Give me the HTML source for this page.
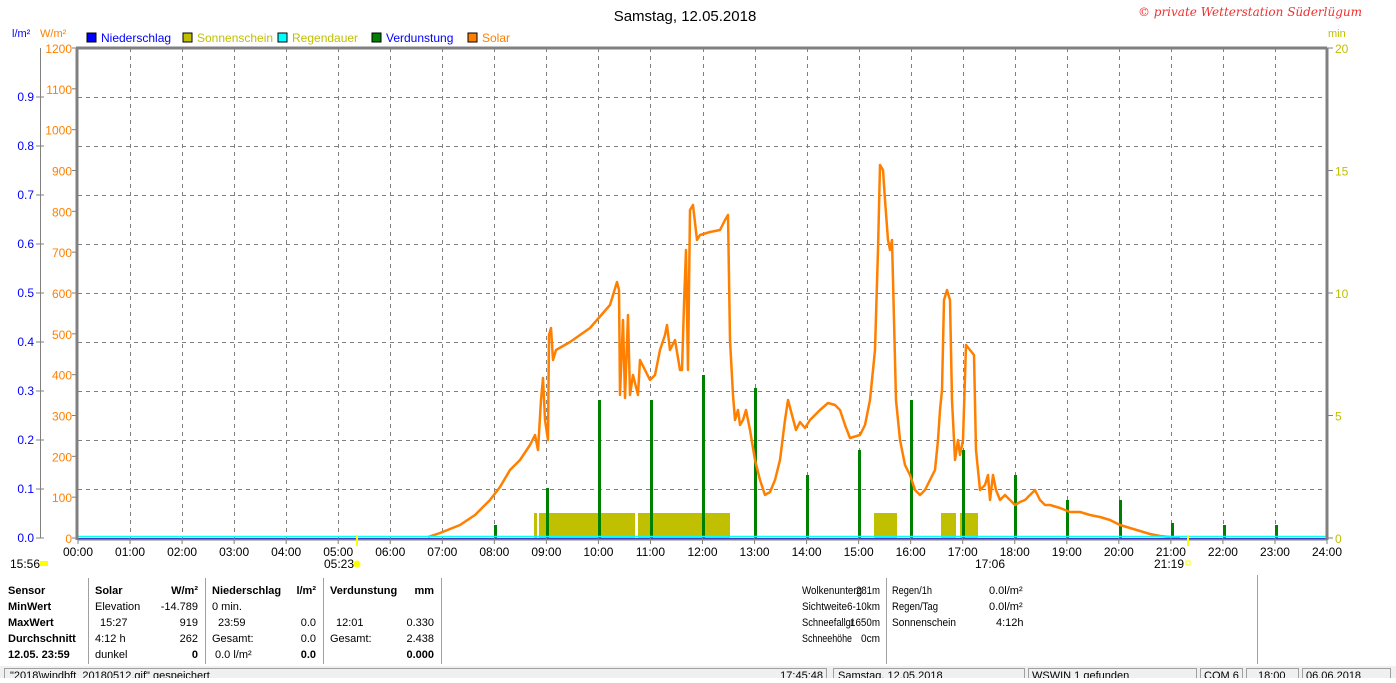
<!DOCTYPE html>
<html><head><meta charset="utf-8"><style>
body{margin:0;background:#fff;width:1396px;height:678px;overflow:hidden;font-family:"Liberation Sans",sans-serif}
svg text{font-family:"Liberation Sans",sans-serif;font-size:12px}
</style></head><body>
<svg id="s" width="1396" height="678" xmlns="http://www.w3.org/2000/svg">
<rect width="1396" height="678" fill="#fff"/>
<text x="685" y="21" text-anchor="middle" style="font-size:15px" fill="#000">Samstag, 12.05.2018</text>
<text x="1250" y="16" text-anchor="middle" fill="#f03030" style="font-size:12px;font-style:italic;font-family:'DejaVu Serif',serif">© private Wetterstation Süderlügum</text>
<text x="12" y="37" fill="#0000ff" style="font-size:11px">l/m²</text>
<text x="40" y="37" fill="#ff8000" style="font-size:11px">W/m²</text>
<text x="1328" y="37" fill="#c0c000" style="font-size:11px">min</text>
<g id="leg"></g>
<g id="grid"></g>
<g id="bars"></g>
<polyline id="solar" fill="none" stroke="#ff8000" stroke-width="2.5" stroke-linejoin="round"/>
<line x1="78" y1="536.5" x2="1327" y2="536.5" stroke="#00ffff" stroke-width="1.5"/>
<line x1="78" y1="538.5" x2="1327" y2="538.5" stroke="#0000ff" stroke-width="1"/>
<g id="axes"></g>
<text x="10" y="568" fill="#000">15:56</text><rect x="40" y="561" width="8" height="5" fill="#ffff00"/>
<text x="324" y="568" fill="#000">05:23</text><circle cx="357" cy="564" r="3.5" fill="#ffff00"/>
<text x="975" y="568" fill="#000">17:06</text>
<text x="1154" y="568" fill="#000">21:19</text><rect x="1186" y="561" width="4" height="4" fill="none" stroke="#ffff00"/>
<line x1="357" y1="535" x2="357" y2="546" stroke="#ffff00" stroke-width="2"/>
<line x1="1188" y1="535" x2="1188" y2="546" stroke="#ffff00" stroke-width="2"/>
<g id="tbl"></g>
</svg>
<script>
const NS="http://www.w3.org/2000/svg";
function el(p,t,a,txt){const e=document.createElementNS(NS,t);for(const k in a)e.setAttribute(k,a[k]);if(txt!==undefined)e.textContent=txt;document.getElementById(p).appendChild(e);return e;}
[["#0000ff","Niederschlag","#0000ff",87],["#c0c000","Sonnenschein","#c0c000",183],["#00ffff","Regendauer","#c0c000",278],["#008000","Verdunstung","#0000ff",372],["#ff8000","Solar","#ff8000",468]].forEach(l=>{
 el("leg","rect",{x:l[3],y:33,width:9,height:9,fill:l[0],stroke:"#000","stroke-width":1});
 el("leg","text",{x:l[3]+14,y:42,fill:l[2]},l[1]);});
const X0=78,X1=1327,Y0=538,YT=48,hw=(X1-X0)/24;
for(let h=1;h<24;h++){const x=Math.round(X0+h*hw)+.5;el("grid","line",{x1:x,y1:YT,x2:x,y2:Y0,stroke:"#808080","stroke-dasharray":"4,4"});}
for(let i=1;i<=9;i++){const y=Math.round(Y0-i*49)+.5;el("grid","line",{x1:X0,y1:y,x2:X1,y2:y,stroke:"#808080","stroke-dasharray":"4,4"});}
el("axes","line",{x1:X0-1,y1:YT,x2:X0-1,y2:Y0+2,stroke:"#808080","stroke-width":3});
el("axes","line",{x1:X0-2,y1:YT,x2:X1,y2:YT,stroke:"#808080","stroke-width":3});
el("axes","line",{x1:X1,y1:YT,x2:X1,y2:Y0+2,stroke:"#808080","stroke-width":3});
el("axes","line",{x1:X0,y1:Y0+1.5,x2:X1,y2:Y0+1.5,stroke:"#808080","stroke-width":2});
el("axes","line",{x1:40.5,y1:YT,x2:40.5,y2:Y0,stroke:"#808080"});
for(let i=0;i<=9;i++){const y=Y0-i*49;el("axes","line",{x1:36,y1:y,x2:44,y2:y,stroke:"#808080"});el("axes","text",{x:34,y:y+4,fill:"#0000ff","text-anchor":"end"},(i/10).toFixed(1));}
for(let i=0;i<=12;i++){const y=Y0-i*490/12;el("axes","line",{x1:72,y1:y,x2:77,y2:y,stroke:"#808080"});el("axes","text",{x:72,y:y+5,fill:"#ff8000","text-anchor":"end"},i*100);}
for(let i=0;i<=4;i++){const y=Y0-i*122.5;el("axes","line",{x1:X1,y1:y,x2:X1+6,y2:y,stroke:"#808080"});el("axes","text",{x:X1+8,y:y+5,fill:"#c0c000"},i*5);}
for(let h=0;h<=24;h++){const x=X0+h*hw;el("axes","line",{x1:x,y1:Y0,x2:x,y2:Y0+6,stroke:"#808080"});el("axes","text",{x:x,y:556,fill:"#000","text-anchor":"middle"},String(h).padStart(2,"0")+":00");}
[[534,537],[539,635],[638,730],[874,897],[941,956],[960,978]].forEach(b=>el("bars","rect",{x:b[0],y:513,width:b[1]-b[0],height:25,fill:"#c0c000"}));
[[495,525],[547,488],[599,400],[651,400],[703,375],[755,388],[807,475],[859,450],[911,400],[963,450],[1015,475],[1067,500],[1120,500],[1172,523],[1224,525],[1276,525]].forEach(b=>el("bars","rect",{x:b[0]-1,y:b[1],width:3,height:538-b[1],fill:"#008000"}));
document.getElementById("solar").setAttribute("points","428,537 440,533 460,525 475,515 490,500 500,487 510,470 520,460 530,445 535,435 538,450 541,400 543,378 545,420 548,440 549,335 551,328 553,360 556,350 570,342 590,328 610,305 617,282 619,290 620,395 623,320 625,398 628,315 630,395 633,375 638,395 640,360 645,370 650,380 655,375 660,350 665,335 667,325 670,350 675,340 680,370 682,370 684,305 686,250 688,370 690,210 693,205 697,240 700,235 710,232 720,230 725,220 728,215 730,340 733,395 735,420 738,410 740,425 743,420 746,410 750,430 755,460 760,480 765,495 770,492 775,480 780,460 785,420 788,400 792,415 796,430 800,422 805,428 810,420 815,415 820,410 828,403 835,405 840,410 845,425 850,438 860,435 865,425 870,400 875,350 878,250 880,165 883,170 885,200 888,240 890,250 892,240 893,280 896,400 900,440 905,465 910,475 915,490 920,495 925,490 930,480 935,470 938,440 940,410 942,390 944,300 947,290 950,300 952,400 955,460 958,440 960,455 963,440 966,345 970,350 974,355 976,450 980,490 985,485 988,475 990,500 993,475 996,490 1000,500 1005,495 1010,500 1015,505 1020,502 1025,500 1030,495 1035,490 1040,500 1045,505 1050,505 1060,508 1070,512 1080,512 1090,515 1100,517 1110,520 1120,525 1130,528 1140,531 1150,534 1160,536 1170,537 1180,538");
const T=(x,y,t,o)=>el("tbl","text",Object.assign({x:x,y:y,fill:"#000","style":"font-size:11px"},o||{}),t);
const B={"font-weight":"bold"},R={"text-anchor":"end"},RB={"text-anchor":"end","font-weight":"bold"};
[88,205,323,441].forEach(x=>el("tbl","line",{x1:x+.5,y1:578,x2:x+.5,y2:664,stroke:"#a0a0a0"}));
el("tbl","line",{x1:886.5,y1:578,x2:886.5,y2:664,stroke:"#a0a0a0"});
el("tbl","line",{x1:1257.5,y1:575,x2:1257.5,y2:664,stroke:"#a0a0a0"});
const ys=[594,610,626,642,658];
["Sensor","MinWert","MaxWert","Durchschnitt","12.05. 23:59"].forEach((t,i)=>T(8,ys[i],t,B));
T(95,ys[0],"Solar",B);T(198,ys[0],"W/m²",RB);
T(95,ys[1],"Elevation");T(198,ys[1],"-14.789",R);
T(100,ys[2],"15:27");T(198,ys[2],"919",R);
T(95,ys[3],"4:12 h");T(198,ys[3],"262",R);
T(95,ys[4],"dunkel");T(198,ys[4],"0",RB);
T(212,ys[0],"Niederschlag",B);T(316,ys[0],"l/m²",RB);
T(212,ys[1],"0 min.");
T(218,ys[2],"23:59");T(316,ys[2],"0.0",R);
T(212,ys[3],"Gesamt:");T(316,ys[3],"0.0",R);
T(215,ys[4],"0.0 l/m²");T(316,ys[4],"0.0",RB);
T(330,ys[0],"Verdunstung",B);T(434,ys[0],"mm",RB);
T(336,ys[2],"12:01");T(434,ys[2],"0.330",R);
T(330,ys[3],"Gesamt:");T(434,ys[3],"2.438",R);
T(434,ys[4],"0.000",RB);
[["Wolkenunterg","281m",60,24],["Sichtweite","6-10km",45,33],["Schneefallgr","1650m",52,30],["Schneehöhe","0cm",50,19]].forEach((r,i)=>{T(802,ys[i],r[0],{textLength:r[2],lengthAdjust:"spacingAndGlyphs"});T(880-r[3],ys[i],r[1],{textLength:r[3],lengthAdjust:"spacingAndGlyphs"});});
[["Regen/1h","0.0l/m²",40],["Regen/Tag","0.0l/m²",46],["Sonnenschein","4:12h",64]].forEach((r,i)=>{T(892,ys[i],r[0],{textLength:r[2],lengthAdjust:"spacingAndGlyphs"});T(i==2?996:989,ys[i],r[1]);});
el("tbl","rect",{x:0,y:666,width:1396,height:12,fill:"#f0f0f0"});
[[4,826],[833,1024],[1028,1196],[1200,1242],[1246,1298],[1302,1390]].forEach(b=>el("tbl","rect",{x:b[0]+.5,y:668.5,width:b[1]-b[0],height:12,fill:"none",stroke:"#a0a0a0"}));
T(10,679,"\"2018\\windbft_20180512.gif\" gespeichert");T(823,679,"17:45:48",R);T(838,679,"Samstag, 12.05.2018");T(1032,679,"WSWIN 1 gefunden");T(1204,679,"COM 6");T(1258,679,"18:00");T(1306,679,"06.06.2018");
</script>
</body></html>
